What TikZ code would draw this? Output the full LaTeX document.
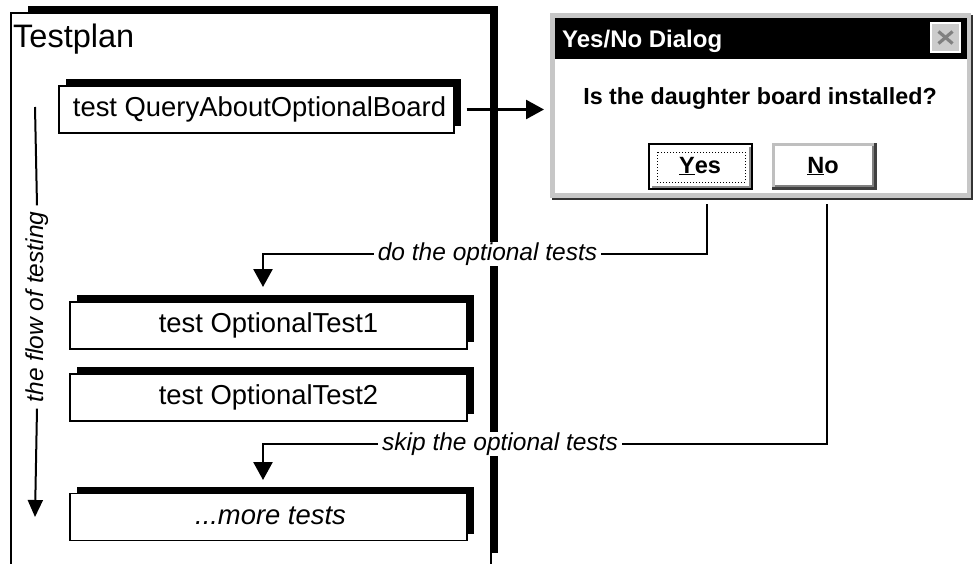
\documentclass[tikz,border=0pt]{standalone}
\usepackage{fontspec}
\setmainfont{Liberation Sans}
\usetikzlibrary{arrows.meta,shadows}
\newcommand{\fsz}[1]{\fontsize{#1}{#1}\selectfont}
\begin{document}
\begin{tikzpicture}[x=1pt,y=-1pt,
  thinl/.style={line width=1.3pt},
  conn/.style={line width=2.6pt, -{Triangle[length=18pt,width=19pt]}},
  plainconn/.style={line width=2.6pt},
  tbox/.style={draw, thinl, fill=white, minimum width=397pt, minimum height=47pt,
    inner sep=0pt, text height=19pt, text depth=5pt, font=\fsz{27.4},
    general shadow={fill=black, shadow xshift=6.5pt, shadow yshift=7pt}},
  lbl/.style={fill=white, inner xsep=4pt, inner ysep=1pt, font=\fsz{24.5}\itshape,
    text height=17pt, text depth=5pt},
  wintext/.style={font=\fsz{23.5}\bfseries, anchor=base, inner sep=0pt}]
\useasboundingbox (0,0) rectangle (973,563);
\clip (0,0) rectangle (973,563);

% Testplan frame
\fill (28,6) rectangle (498,553);
\draw[thinl, fill=white] (11,13) rectangle (491,600);
\node[anchor=base west, inner sep=0pt, font=\fsz{32.5}] (plan) at (13,47) {Testplan};

% test boxes
\node[tbox, minimum width=395pt] (q) at (256.5,109.5) {\hspace*{6pt}test QueryAboutOptionalBoard};
\node[tbox] (b1) at (268.5,325.5) {test OptionalTest1};
\node[tbox] (b2) at (268.5,397.5) {test OptionalTest2};
\node[tbox, font=\fsz{27.4}\itshape] (b3) at (268.5,517) {\hspace*{4pt}...more tests};

% dialog
\fill[black!80] (552,15) rectangle (973,200);
\fill[black!22] (550,13) rectangle (971,198);
\node[fill=white, minimum width=412pt, minimum height=175pt, inner sep=0pt, anchor=north west] (dlg) at (555,18) {};
\fill[black] (555,18) rectangle (967,59);
\node[font=\fsz{24}\bfseries, text=white, anchor=base west, inner sep=0pt] (dtitle) at (562,47) {Yes/No Dialog};
\node[fill=black!20, draw=white, line width=1.5pt, minimum width=29pt, minimum height=29pt, inner sep=0pt] (close) at (945.5,37.5) {};
\draw[black!50, line width=3.2pt] ([shift={(-7,-6)}]close.center) -- ([shift={(7,6)}]close.center);
\draw[black!50, line width=3.2pt] ([shift={(7,-6)}]close.center) -- ([shift={(-7,6)}]close.center);
\node[font=\fsz{23.3}\bfseries, anchor=base, inner sep=0pt] (msg) at (760,104) {Is the daughter board installed?};

% Yes button
\node[draw=black, line width=2.5pt, fill=white, minimum width=103pt, minimum height=45pt, inner sep=0pt] (yes) at (700.5,166.5) {};
\draw[black!45, line width=2pt] (652,186.5) -- (749.5,186.5) -- (749.5,147);
\draw[dotted, line width=1pt] (657,152) rectangle (745,182);
\node[wintext] (yestxt) at (700,173) {\underline{Y}es};

% No button
\fill[black!75] (772,143) rectangle (877,190);
\fill[black!25] (772,143) rectangle (874,187);
\node[fill=white, anchor=north west, minimum width=99pt, minimum height=41pt, inner sep=0pt] (no) at (775,146) {};
\draw[black!50, line width=2pt] (775,186) -- (873,186) -- (873,146);
\node[wintext] (notxt) at (823,173) {\underline{N}o};

% flow of testing
\coordinate (ftop) at (35,107);
\coordinate (fbot) at (35,517);
\node[rotate=90, font=\fsz{24.5}\itshape, inner xsep=6pt, inner ysep=0pt] (flow) at (37,307) {the flow of testing};
\draw[line width=2pt] (ftop) -- (flow.east);
\draw[line width=2pt, -{Triangle[length=17pt,width=15pt]}] (flow.west) -- (fbot);

% labels and connectors
\node[lbl] (dolbl) at (487.5,254) {do the optional tests};
\node[lbl] (sklbl) at (500,444) {skip the optional tests};
\coordinate (yesout) at (707,204);
\coordinate (noout) at (827,204);
\coordinate (in1) at (263,287);
\coordinate (in3) at (263,480);
\draw[plainconn] (yesout) |- (dolbl.east);
\draw[conn] (dolbl.west) -| (in1);
\draw[plainconn] (noout) |- (sklbl.east);
\draw[conn] (sklbl.west) -| (in3);
\draw[conn, shorten <=12pt, shorten >=11pt] (q.east) -- (q.east -| dlg.west);
\end{tikzpicture}
\end{document}
